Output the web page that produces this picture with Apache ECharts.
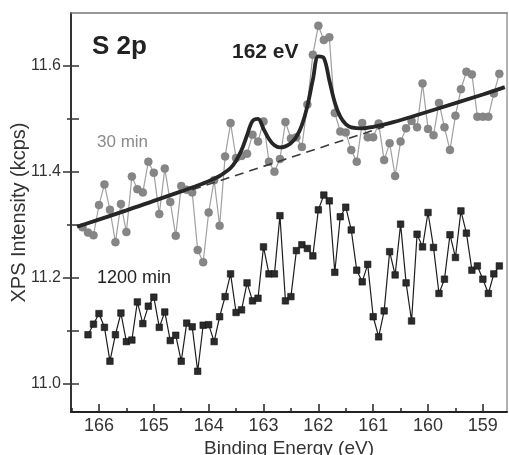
<!DOCTYPE html>
<html>
<head>
<meta charset="utf-8">
<script src="https://cdn.jsdelivr.net/npm/echarts@6/dist/echarts.min.js"></script>
<style>
html,body{margin:0;padding:0;background:#fff;}
#chart{width:509px;height:455px;}
</style>
</head>
<body>
<div id="chart"></div>
<script>
// 30 min spectrum (grey circles)
var energy30 = [166.3,166.2,166.1,166.0,165.9,165.8,165.7,165.6,165.5,165.4,165.3,165.2,165.1,165.0,164.9,164.8,164.7,164.6,164.5,164.4,164.3,164.2,164.1,164.0,163.9,163.8,163.7,163.6,163.5,163.4,163.3,163.2,163.1,163.0,162.9,162.8,162.7,162.6,162.5,162.4,162.3,162.2,162.1,162.0,161.9,161.8,161.7,161.6,161.5,161.4,161.3,161.2,161.1,161.0,160.9,160.8,160.7,160.6,160.5,160.4,160.3,160.2,160.1,160.0,159.9,159.8,159.7,159.6,159.5,159.4,159.3,159.2,159.1,159.0,158.9,158.8,158.7];
var intensity30 = [11.295,11.285,11.280,11.337,11.376,11.328,11.267,11.339,11.286,11.391,
11.367,11.361,11.419,11.398,11.320,11.406,11.343,11.279,11.373,11.366,
11.361,11.252,11.229,11.323,11.384,11.298,11.429,11.492,11.426,11.430,
11.434,11.470,11.457,11.495,11.419,11.400,11.424,11.494,11.463,11.465,
11.447,11.527,11.621,11.676,11.649,11.654,11.511,11.476,11.474,11.441,
11.419,11.492,11.465,11.465,11.491,11.422,11.454,11.392,11.457,11.482,
11.496,11.484,11.567,11.481,11.469,11.530,11.484,11.441,11.506,11.556,
11.589,11.584,11.504,11.504,11.504,11.548,11.585];

// 1200 min spectrum (black squares)
var energy1200 = [166.2,166.1,166.0,165.9,165.8,165.7,165.6,165.5,165.4,165.3,165.2,165.1,165.0,164.9,164.8,164.7,164.6,164.5,164.4,164.3,164.2,164.1,164.0,163.9,163.8,163.7,163.6,163.5,163.4,163.3,163.2,163.1,163.0,162.9,162.8,162.7,162.6,162.5,162.4,162.3,162.2,162.1,162.0,161.9,161.8,161.7,161.6,161.5,161.4,161.3,161.2,161.1,161.0,160.9,160.8,160.7,160.6,160.5,160.4,160.3,160.2,160.1,160.0,159.9,159.8,159.7,159.6,159.5,159.4,159.3,159.2,159.1,159.0,158.9,158.8,158.7];
var intensity1200 = [11.092,11.112,11.132,11.106,11.042,11.092,11.133,11.079,11.082,11.154,
11.113,11.146,11.163,11.106,11.135,11.081,11.091,11.042,11.114,11.107,
11.023,11.110,11.111,11.079,11.126,11.164,11.207,11.134,11.139,11.190,
11.156,11.161,11.258,11.207,11.207,11.317,11.156,11.164,11.251,11.262,
11.255,11.241,11.328,11.356,11.345,11.210,11.315,11.333,11.290,11.214,
11.192,11.225,11.126,11.088,11.137,11.249,11.205,11.301,11.190,11.118,
11.282,11.258,11.323,11.257,11.170,11.197,11.281,11.238,11.326,11.284,
11.214,11.222,11.197,11.170,11.207,11.222];

// fitted envelope
var fitEnergy = [166.4,165.5,165.0,164.5,164.2,164.0,163.8,163.7,163.6,163.5,163.4,163.3,163.2,163.1,163.0,162.9,162.8,162.7,162.6,162.5,162.4,162.3,162.2,162.1,162.0,161.9,161.8,161.7,161.6,161.5,161.4,161.2,161.0,160.7,160.3,159.8,159.0,158.6];
var fitIntensity = [11.296,11.327,11.345,11.363,11.374,11.382,11.392,11.399,11.407,11.421,11.441,11.469,11.496,11.500,11.481,11.462,11.450,11.446,11.448,11.454,11.466,11.488,11.524,11.574,11.618,11.615,11.573,11.531,11.504,11.490,11.484,11.482,11.485,11.492,11.504,11.520,11.546,11.560];

// linear background (dashed)
var baseEnergy = [164.3, 160.8];
var baseIntensity = [11.366, 11.485];

// ticks
var xMajor = [159,160,161,162,163,164,165,166];
var xMinor = [158.5,159.5,160.5,161.5,162.5,163.5,164.5,165.5,166.5];
var yMajor = [11.0,11.2,11.4,11.6];
var yMinor = [11.1,11.3,11.5];
var yAll = [11.0,11.1,11.2,11.3,11.4,11.5,11.6];

function pairs(a,b){ return a.map(function(v,i){ return [v,b[i]]; }); }

var XMIN = 158.56, XMAX = 166.51, YMIN = 10.946, YMAX = 11.70;
var FONT = 'Liberation Sans, Arial, sans-serif';

var chart = echarts.init(document.getElementById('chart'), null, {renderer:'canvas'});
chart.setOption({
  animation: false,
  backgroundColor: '#fff',
  grid: {left: 71, right: 2, top: 13, bottom: 43, containLabel: false, outerBoundsMode: 'none'},
  xAxis: [
    {type:'value', position:'bottom', inverse:true, min:XMIN, max:XMAX,
     name:'Binding Energy (eV)', nameLocation:'middle', nameGap:27, nameMoveOverlap:false,
     nameTextStyle:{fontSize:19, color:'#333', fontFamily:FONT},
     axisLine:{show:true, lineStyle:{color:'#222', width:2}},
     axisTick:{show:true, inside:true, length:8, customValues:xMajor, lineStyle:{color:'#222', width:1.5}},
     axisLabel:{show:true, customValues:xMajor, margin:5, fontSize:18, color:'#333', fontFamily:FONT},
     splitLine:{show:false}},
    {type:'value', position:'bottom', inverse:true, min:XMIN, max:XMAX,
     axisLine:{show:false},
     axisTick:{show:true, inside:true, length:4, customValues:xMinor, lineStyle:{color:'#222', width:1.5}},
     axisLabel:{show:false}, splitLine:{show:false}},
    {type:'value', position:'top', inverse:true, min:XMIN, max:XMAX,
     axisLine:{show:true, lineStyle:{color:'#777', width:1.5}},
     axisTick:{show:false}, axisLabel:{show:false}, splitLine:{show:false}}
  ],
  yAxis: [
    {type:'value', position:'left', min:YMIN, max:YMAX,
     name:'XPS Intensity (kcps)', nameLocation:'middle', nameGap:42, nameRotate:90, nameMoveOverlap:false,
     nameTextStyle:{fontSize:20, color:'#333', fontFamily:FONT},
     axisLine:{show:true, lineStyle:{color:'#333', width:2}},
     axisTick:{show:true, inside:false, length:8, customValues:yMajor, lineStyle:{color:'#333', width:1.5}},
     axisLabel:{show:true, customValues:yMajor, margin:10, fontSize:16, color:'#333', fontFamily:FONT,
       formatter:function(v){ return v.toFixed(1); }},
     splitLine:{show:false}},
    {type:'value', position:'left', min:YMIN, max:YMAX,
     axisLine:{show:false},
     axisTick:{show:true, inside:false, length:4, customValues:yMinor, lineStyle:{color:'#333', width:1.5}},
     axisLabel:{show:false}, splitLine:{show:false}},
    {type:'value', position:'left', min:YMIN, max:YMAX,
     axisLine:{show:false},
     axisTick:{show:true, inside:true, length:8, customValues:yAll, lineStyle:{color:'#333', width:1.5}},
     axisLabel:{show:false}, splitLine:{show:false}},
    {type:'value', position:'right', min:YMIN, max:YMAX,
     axisLine:{show:true, lineStyle:{color:'#999', width:1.5}},
     axisTick:{show:false}, axisLabel:{show:false}, splitLine:{show:false}}
  ],
  series: [
    {type:'line', name:'1200 min', data:pairs(energy1200, intensity1200),
     symbol:'rect', symbolSize:6.5, showAllSymbol:true,
     lineStyle:{color:'#1e1e1e', width:1.2},
     itemStyle:{color:'#2b2b2b', borderColor:'#111', borderWidth:0.6}, z:3},
    {type:'line', name:'30 min', data:pairs(energy30, intensity30),
     symbol:'circle', symbolSize:8, showAllSymbol:true,
     lineStyle:{color:'#a0a0a0', width:1.2},
     itemStyle:{color:'#868686', borderColor:'#7a7a7a', borderWidth:0.5}, z:3},
    {type:'line', name:'background', data:pairs(baseEnergy, baseIntensity),
     symbol:'none', lineStyle:{color:'#3a3a3a', width:1.6, type:[9,6]}, z:4},
    {type:'line', name:'fit', data:pairs(fitEnergy, fitIntensity),
     symbol:'none', smooth:0.35, lineStyle:{color:'#262626', width:3.8}, z:5}
  ],
  graphic: [
    {type:'text', left:92, top:34, style:{text:'S 2p', font:'bold 26px ' + FONT, fill:'#222'}},
    {type:'text', left:232, top:42, style:{text:'162 eV', font:'bold 21px ' + FONT, fill:'#222'}},
    {type:'text', left:97, top:134, style:{text:'30 min', font:'17px ' + FONT, fill:'#8a8a8a'}},
    {type:'text', left:97, top:269, style:{text:'1200 min', font:'18px ' + FONT, fill:'#222'}}
  ]
});
</script>
</body>
</html>
